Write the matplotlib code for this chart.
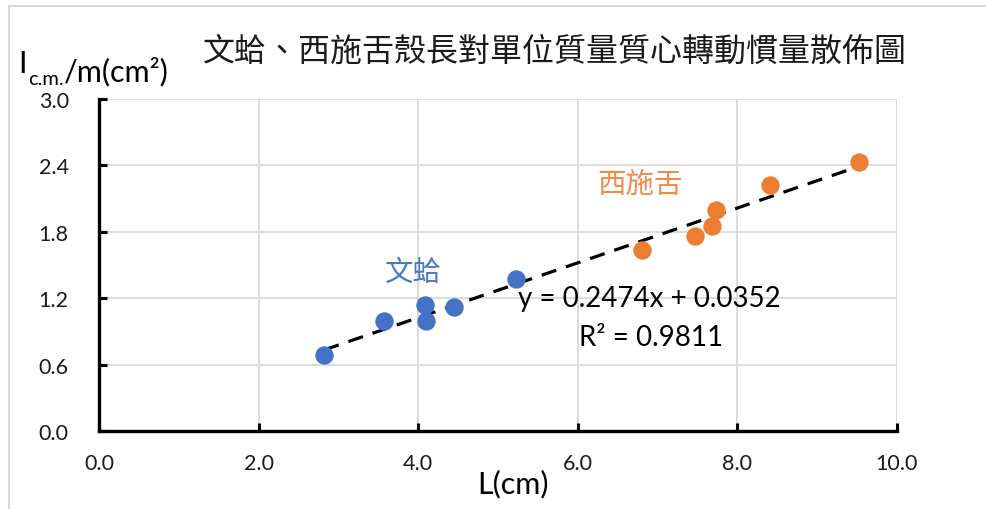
import matplotlib
matplotlib.use("Agg")
import matplotlib.pyplot as plt
import numpy as np
from matplotlib.lines import Line2D

plt.rcParams['font.family'] = ['Lato', 'Noto Sans CJK TC', 'DejaVu Sans']

# Shell length L (cm) and moment of inertia per unit mass (cm^2)
clam_L = [2.82, 3.57, 4.08, 4.10, 4.45, 5.22]
clam_I = [0.687, 0.997, 1.139, 0.991, 1.118, 1.373]
geoduck_L = [6.80, 7.47, 7.68, 7.73, 8.41, 9.52]
geoduck_I = [1.636, 1.765, 1.855, 2.000, 2.223, 2.428]

# Linear fit over both species
slope = 0.2474
intercept = 0.0352
r_squared = 0.9811

x_ticks = [0, 2, 4, 6, 8, 10]
y_ticks = [0.0, 0.6, 1.2, 1.8, 2.4, 3.0]

BLUE = '#4472C4'
ORANGE = '#ED7D31'
GRID = '#D9D9D9'

W, H, DPI = 987, 510, 100
fig = plt.figure(figsize=(W / DPI, H / DPI), dpi=DPI)

# Chart frame (light gray border)
fig.add_artist(Line2D([9 / W, 9 / W], [0, 1 - 7 / H], color='#D9D9D9', lw=1.5,
                      transform=fig.transFigure))
fig.add_artist(Line2D([9 / W, 1], [1 - 7 / H, 1 - 7 / H], color='#D9D9D9', lw=1.5,
                      transform=fig.transFigure))

ax = fig.add_axes([99.3 / W, 1 - 432 / H, 797.5 / W, 332 / H])
ax.set_xlim(0, 10)
ax.set_ylim(0, 3.0)
ax.set_xticks(x_ticks)
ax.set_yticks(y_ticks)
ax.set_xticklabels([f'{v:.1f}' for v in x_ticks])
ax.set_yticklabels([f'{v:.1f}' for v in y_ticks])
ax.grid(True, color=GRID, lw=1.3, zorder=0)
ax.set_axisbelow(True)

for s in ('top', 'right'):
    ax.spines[s].set_visible(False)
for s in ('left', 'bottom'):
    ax.spines[s].set_linewidth(2.4)
    ax.spines[s].set_color('black')
    ax.spines[s].set_capstyle('projecting')

ax.tick_params(axis='both', direction='in', length=5.5, width=2.2, color='black',
               labelsize=15.5, labelcolor='#1a1a1a')
ax.tick_params(axis='x', pad=16)
ax.tick_params(axis='y', pad=22)

# Trendline across the full data range
all_L = np.array(clam_L + geoduck_L)
xs = np.array([all_L.min(), all_L.max()])
ax.plot(xs, slope * xs + intercept, color='black', lw=2.3,
        linestyle=(0, (4.8, 3.2)), zorder=2)

ax.scatter(clam_L, clam_I, s=175, color=BLUE, zorder=3, linewidths=0)
ax.scatter(geoduck_L, geoduck_I, s=175, color=ORANGE, zorder=3, linewidths=0)

ax.text(3.93, 1.44, '文蛤', color='#4A78C6', fontsize=20.5,
        family=['Noto Sans CJK TC'], ha='center', va='center')
ax.text(6.78, 2.23, '西施舌', color='#EE8A4A', fontsize=20.5,
        family=['Noto Sans CJK TC'], ha='center', va='center')

ax.text(6.9, 1.205, f'y = {slope:.4f}x + {intercept:.4f}', fontsize=20,
        ha='center', va='center', color='black')
ax.text(6.92, 0.85, f'R² = {r_squared:.4f}', fontsize=20,
        ha='center', va='center', color='black')

fig.text(555 / W, 1 - 52 / H, '文蛤、西施舌殼長對單位質量質心轉動慣量散佈圖',
         fontsize=23, family=['Noto Sans CJK TC'], ha='center', va='center',
         color='#1a1a1a')

# Y-axis title: I with subscript "c.m." followed by /m(cm²)
t_i = fig.text(18 / W, 1 - 73 / H, 'I', fontsize=22, ha='left', va='baseline',
               color='black')
sub = plt.annotate('c.m.', xy=(1.0, 0.0), xycoords=t_i, xytext=(1, -5),
                   textcoords='offset points', fontsize=14.5, ha='left',
                   va='baseline', color='black', annotation_clip=False)
plt.annotate('/m(cm²)', xy=(1.0, 0.0), xycoords=sub, xytext=(0, 5),
             textcoords='offset points', fontsize=22, ha='left',
             va='baseline', color='black', annotation_clip=False)

fig.text(513 / W, 1 - 484 / H, 'L(cm)', fontsize=22, ha='center', va='center',
         color='black')

fig.savefig('out.png', dpi=DPI)
